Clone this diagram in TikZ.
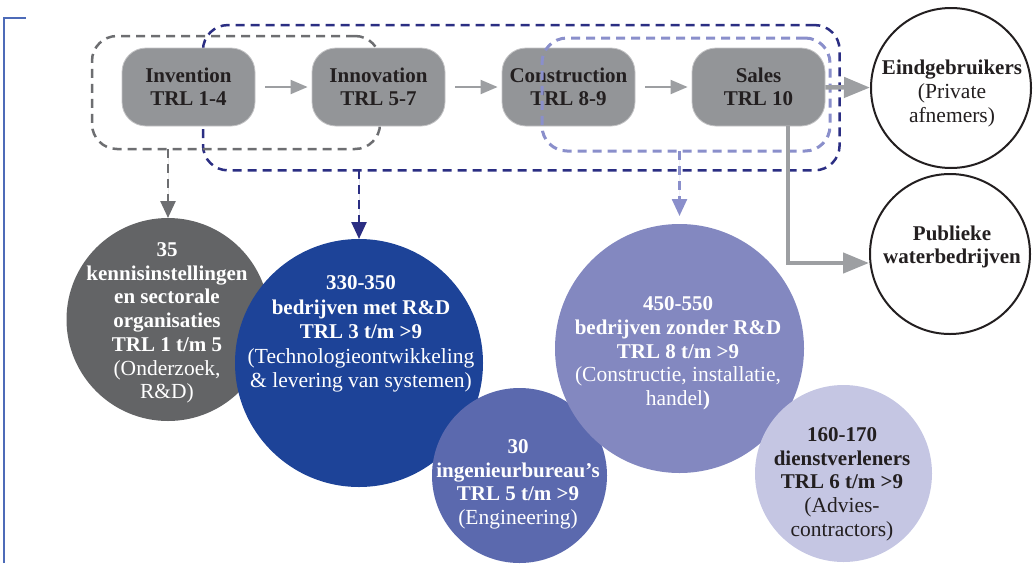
\documentclass[tikz,border=0pt]{standalone}
\usepackage{fontspec}
\setmainfont{Liberation Serif}
\usetikzlibrary{arrows.meta}
\definecolor{boxgray}{HTML}{939598}
\definecolor{boxrim}{HTML}{C4C4C6}
\definecolor{txt}{HTML}{231F20}
\definecolor{flowgray}{HTML}{9D9FA2}
\definecolor{dgray}{HTML}{6D6E71}
\definecolor{navy}{HTML}{2B2E83}
\definecolor{lilac}{HTML}{8A8FCB}
\definecolor{cgray}{HTML}{636466}
\definecolor{cnavy}{HTML}{1D4398}
\definecolor{cmid}{HTML}{5B69AE}
\definecolor{clight}{HTML}{8388C0}
\definecolor{cpale}{HTML}{C5C6E3}
\definecolor{framebl}{HTML}{4D6BB8}
\newcommand\regl[1]{{\mdseries\fontsize{21.5}{23.7}\selectfont #1}}
\begin{document}
\begin{tikzpicture}[x=1pt,y=-1pt,
  stage/.style={rectangle, rounded corners=24pt, minimum width=133pt, minimum height=78pt,
    fill=boxgray, draw=boxrim, line width=0.8pt, align=center, text=txt, inner sep=0pt,
    font=\bfseries\fontsize{21}{23.3}\selectfont},
  grp/.style={rectangle, rounded corners=25pt, dash pattern=on 9pt off 6pt, line width=2.5pt,
    inner sep=0pt, outer sep=0pt},
  flow/.style={draw=flowgray, line width=2pt, -{Triangle[width=14pt,length=17pt]}},
  bigflow/.style={draw=flowgray, line width=4.5pt, -{Triangle[width=20pt,length=26pt]}},
  darr/.style={dash pattern=on 9pt off 6pt, line width=2.5pt, -{Triangle[width=15pt,length=17pt]}},
  blob/.style={circle, inner sep=0pt, outer sep=0pt},
  endc/.style={circle, draw=txt, line width=2pt, fill=white, minimum size=160pt, inner sep=0pt},
  ctext/.style={align=center, inner sep=0pt, font=\bfseries\fontsize{21}{23.7}\selectfont}
]
\useasboundingbox (0,0) rectangle (1036,563);

% left frame line
\draw[framebl, line width=1.5pt] (4,563) -- (4,18) -- (26,18);

% group frames (behind boxes)
\node[grp, draw=navy, minimum width=636.6pt, minimum height=145.3pt] (nframe) at (521.3,97.7) {};
\node[grp, draw=dgray, minimum width=288pt, minimum height=113pt] (gframe) at (236,92.5) {};

% stages
\node[stage] (inv) at (188.5,87) {Invention\\TRL 1-4};
\node[stage] (innov) at (378.5,87) {Innovation\\TRL 5-7};
\node[stage] (constr) at (568.5,87) {Construction\\TRL 8-9};
\node[stage] (sales) at (758.5,87) {Sales\\TRL 10};

% light frame (in front of boxes)
\node[grp, draw=lilac, line width=3pt, minimum width=288pt, minimum height=113pt] (lframe) at (686,94.5) {};

% flows between stages
\draw[flow, shorten <=10pt, shorten >=4pt] (inv) -- (innov);
\draw[flow, shorten <=10pt, shorten >=4pt] (innov) -- (constr);
\draw[flow, shorten <=10pt, shorten >=4pt] (constr) -- (sales);

% end user circles
\node[endc] (eind) at (951,88) {};
\node[endc] (pub) at (950,254) {};
\node[ctext, text=txt] (teind) at (952,93.5) {Eindgebruikers\\\regl{(Private}\\\regl{afnemers)}};
\node[ctext, text=txt] (tpub) at (952,246.8) {Publieke\\waterbedrijven};

\draw[bigflow] (sales) -- (eind);
\draw[bigflow] ([xshift=29.5pt]sales.south) |- ([yshift=-9pt]pub.west);

% organisation circles
\node[blob, fill=cgray, minimum size=203pt] (c1) at (168,319.5) {};
\node[blob, fill=cnavy, minimum size=248pt] (c2) at (359,363) {};
\node[blob, fill=cmid, minimum size=175pt] (c3) at (519.5,475.5) {};
\node[blob, fill=clight, minimum size=249pt] (c4) at (679.5,348.5) {};
\node[blob, fill=cpale, minimum size=177pt] (c5) at (843.5,473.5) {};

% dashed arrows
\draw[darr, dgray, fill=dgray] (gframe.south -| c1.north) -- (c1.north);
\draw[darr, navy, fill=navy] (nframe.south -| c2.north) -- (c2.north);
\draw[darr, lilac, fill=lilac, shorten >=8pt] (lframe.south -| c4.north) -- (c4.north);

% circle texts
\node[ctext, text=white] (t1) at (167,323)
  {35\\kennisinstellingen\\en sectorale\\organisaties\\TRL 1 t/m 5\\\regl{(Onderzoek,}\\\regl{R\&D)}};
\node[ctext, text=white, font=\bfseries\fontsize{21}{24.5}\selectfont] (t2) at (361,334.2)
  {330-350\\bedrijven met R\&D\\TRL 3 t/m >9\\\regl{(Technologieontwikkeling}\\\regl{\& levering van systemen)}};
\node[ctext, text=white] (t3) at (518,484.2)
  {30\\ingenieurbureau’s\\TRL 5 t/m >9\\\regl{(Engineering)}};
\node[ctext, text=white] (t4) at (678,353.5)
  {450-550\\bedrijven zonder R\&D\\TRL 8 t/m >9\\\regl{(Constructie, installatie,}\\\regl{handel}\textbf{)}};
\node[ctext, text=txt] (t5) at (842,484)
  {160-170\\dienstverleners\\TRL 6 t/m >9\\\regl{(Advies-}\\\regl{contractors)}};
\end{tikzpicture}
\end{document}
